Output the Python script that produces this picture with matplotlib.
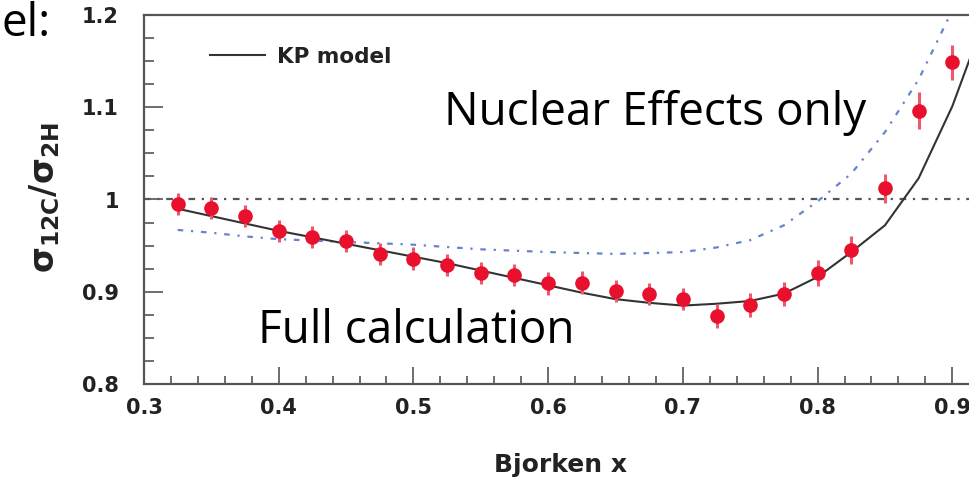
import numpy as np
import matplotlib
matplotlib.use("Agg")
import matplotlib.pyplot as plt
from matplotlib.ticker import MultipleLocator, FixedLocator

# data
x_data = [0.325, 0.35, 0.375, 0.4, 0.425, 0.45, 0.475, 0.5, 0.525, 0.55, 0.575, 0.6,
          0.625, 0.65, 0.675, 0.7, 0.725, 0.75, 0.775, 0.8, 0.825, 0.85, 0.875, 0.9]
ratio = [0.995, 0.991, 0.982, 0.966, 0.959, 0.955, 0.941, 0.936, 0.929, 0.920, 0.918, 0.909,
         0.910, 0.901, 0.898, 0.892, 0.874, 0.886, 0.898, 0.920, 0.945, 1.012, 1.096, 1.149]
ratio_err = [0.012, 0.012, 0.012, 0.012, 0.012, 0.012, 0.012, 0.012, 0.012, 0.012, 0.012, 0.012,
             0.012, 0.012, 0.012, 0.012, 0.013, 0.013, 0.013, 0.014, 0.015, 0.016, 0.020, 0.019]

x_kp = [0.325, 0.35, 0.375, 0.4, 0.425, 0.45, 0.475, 0.5, 0.525, 0.55, 0.575, 0.6, 0.625,
        0.65, 0.675, 0.7, 0.725, 0.75, 0.775, 0.8, 0.825, 0.85, 0.875, 0.9, 0.925]
kp_full = [0.990, 0.982, 0.974, 0.966, 0.959, 0.952, 0.945, 0.938, 0.931, 0.923, 0.915, 0.907,
           0.899, 0.892, 0.888, 0.885, 0.887, 0.890, 0.898, 0.916, 0.943, 0.972, 1.023, 1.101, 1.20]

x_nuc = [0.325, 0.35, 0.375, 0.4, 0.45, 0.5, 0.55, 0.6, 0.65, 0.7, 0.725, 0.75, 0.775,
         0.8, 0.825, 0.85, 0.875, 0.9]
kp_nuclear = [0.967, 0.964, 0.960, 0.957, 0.954, 0.951, 0.946, 0.943, 0.941, 0.943, 0.948,
              0.956, 0.972, 0.998, 1.028, 1.073, 1.130, 1.205]

x_ticks = [0.3, 0.4, 0.5, 0.6, 0.7, 0.8, 0.9]
x_labels = ["0.3", "0.4", "0.5", "0.6", "0.7", "0.8", "0.9"]
y_ticks = [0.8, 0.9, 1.0, 1.1, 1.2]
y_labels = ["0.8", "0.9", "1", "1.1", "1.2"]

W, H = 969, 488
fig = plt.figure(figsize=(W / 100, H / 100), dpi=100)
ax = fig.add_axes([144 / W, 104 / H, 943 / W, 369 / H])
ax.set_xlim(0.3, 1.0)
ax.set_ylim(0.8, 1.2)

# unity line
ax.axhline(1.0, color="#555555", lw=1.6, linestyle=(0, (3, 3, 1, 3)))
# nuclear effects only
ax.plot(x_nuc, kp_nuclear, color="#6584cc", lw=1.6, linestyle=(0, (2.5, 3.5, 1, 3.5)))
# full KP model
ax.plot(x_kp, kp_full, color="#333333", lw=1.5, label="KP model")
# data
ax.errorbar(x_data, ratio, yerr=ratio_err, fmt="o", color="#e8102c", ms=9.5,
            ecolor="#f0566c", elinewidth=2.2, capsize=0, zorder=5)

ax.spines["right"].set_visible(False)
for s in ["left", "bottom", "top"]:
    ax.spines[s].set_color("#555555")
    ax.spines[s].set_linewidth(1.6)

ax.xaxis.set_major_locator(FixedLocator(x_ticks))
ax.set_xticklabels(x_labels)
ax.xaxis.set_minor_locator(MultipleLocator(0.02))
ax.yaxis.set_major_locator(FixedLocator(y_ticks))
ax.set_yticklabels(y_labels)
ax.yaxis.set_minor_locator(MultipleLocator(0.025))
ax.tick_params(which="both", direction="in", color="#555555", width=1.2, top=False, right=False)
ax.tick_params(axis="y", which="major", length=14, pad=18)
ax.tick_params(axis="y", which="minor", length=7)
ax.tick_params(axis="x", which="major", length=12, pad=10)
ax.tick_params(axis="x", which="minor", length=6)
for lab in ax.get_xticklabels() + ax.get_yticklabels():
    lab.set_fontfamily("DejaVu Sans")
    lab.set_fontweight("bold")
    lab.set_fontsize(15)
    lab.set_color("#222222")

leg = ax.legend(loc="center left", bbox_to_anchor=(210 / W, 1 - 57 / H),
                bbox_transform=fig.transFigure, frameon=False, borderpad=0,
                borderaxespad=0, handlelength=2.55, handletextpad=0.55,
                prop={"family": "DejaVu Sans", "weight": "bold", "size": 15.5})
for t in leg.get_texts():
    t.set_color("#222222")

fig.text(560 / W, 1 - 465 / H, "Bjorken x", ha="center", va="center",
         fontfamily="DejaVu Sans", fontweight="bold", fontsize=18, color="#222222")
fig.text(45 / W, 1 - 197 / H, r"$\mathbf{\sigma_{12C}/\sigma_{2H}}$", rotation=90,
         ha="center", va="center", fontsize=24, color="#222222")

# slide text
fig.text(444 / W, 1 - 125 / H, "Nuclear Effects only", ha="left", va="baseline",
         fontfamily="Open Sans", fontsize=33, color="black")
fig.text(258 / W, 1 - 343 / H, "Full calculation", ha="left", va="baseline",
         fontfamily="Open Sans", fontsize=33, color="black")
fig.text(2 / W, 1 - 36 / H, "el:", ha="left", va="baseline",
         fontfamily="Open Sans", fontsize=33, color="black")

fig.savefig("out.png", dpi=100)
